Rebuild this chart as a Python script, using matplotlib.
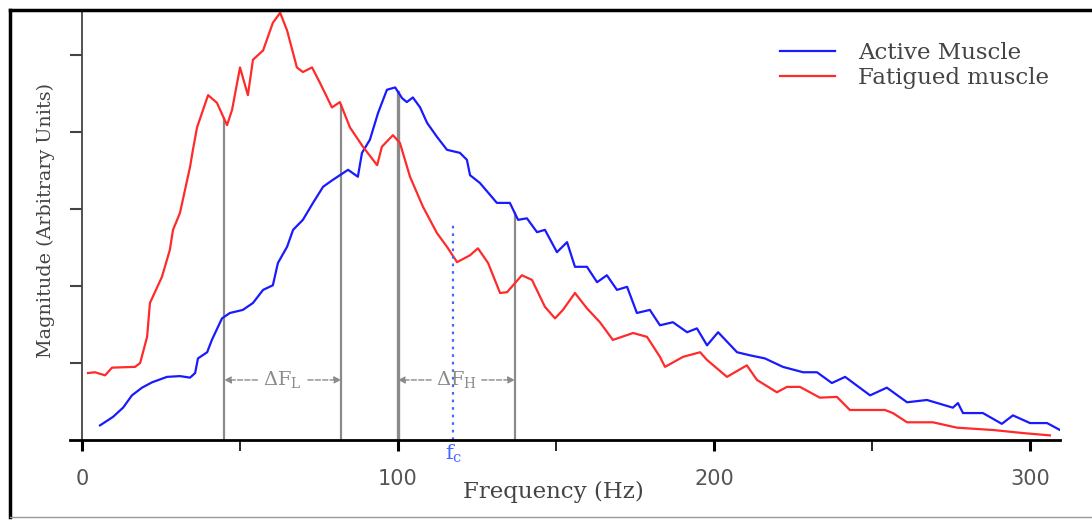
import numpy as np
import matplotlib
matplotlib.use("Agg")
import matplotlib.pyplot as plt
from matplotlib.lines import Line2D

# Spectra (Hz, arbitrary units)
active_freq = [5.7, 9.8, 13.0, 15.8, 19.0, 22.2, 26.9, 31.0, 34.2, 35.8, 36.7, 39.6, 41.1, 44.3,
               46.8, 50.9, 54.1, 57.3, 60.4, 62.0, 64.9, 66.8, 69.9, 73.1, 76.3, 79.4, 84.2, 87.3,
               88.6, 91.1, 93.7, 96.5, 99.1, 101.3, 102.8, 104.7, 107.0, 109.2, 112.3, 115.5, 119.6,
               121.8, 122.8, 125.9, 131.3, 135.4, 138.0, 140.8, 144.0, 146.5, 150.3, 153.5, 156.0,
               159.8, 163.0, 166.1, 169.3, 172.5, 175.6, 179.7, 182.9, 187.0, 191.5, 194.6, 197.8,
               201.3, 207.3, 211.4, 216.1, 221.8, 228.2, 232.6, 237.3, 241.5, 249.4, 254.7, 261.1,
               267.4, 275.6, 277.2, 278.8, 285.1, 291.1, 294.6, 300.0, 305.4, 309.5]
active_mag = [0.19, 0.30, 0.42, 0.58, 0.68, 0.75, 0.82, 0.83, 0.81, 0.87, 1.06, 1.14, 1.30, 1.58,
              1.65, 1.69, 1.78, 1.95, 2.01, 2.30, 2.51, 2.73, 2.86, 3.08, 3.29, 3.38, 3.51, 3.42,
              3.73, 3.90, 4.25, 4.55, 4.58, 4.44, 4.39, 4.45, 4.32, 4.12, 3.94, 3.77, 3.73,
              3.64, 3.44, 3.34, 3.08, 3.08, 2.86, 2.88, 2.70, 2.73, 2.44, 2.57, 2.25,
              2.25, 2.05, 2.14, 1.95, 1.99, 1.65, 1.69, 1.49, 1.53, 1.40, 1.45, 1.23,
              1.40, 1.14, 1.10, 1.06, 0.95, 0.88, 0.88, 0.74, 0.82, 0.58, 0.68, 0.49,
              0.52, 0.42, 0.48, 0.35, 0.35, 0.21, 0.32, 0.22, 0.22, 0.13]

fatigued_freq = [1.9, 4.1, 7.3, 9.5, 16.8, 18.4, 20.6, 21.5, 25.3, 27.8, 28.8, 31.0, 34.2, 35.1,
                 36.4, 39.9, 42.7, 45.9, 47.5, 50.0, 52.5, 54.1, 57.3, 60.4, 62.7, 64.9, 68.0,
                 69.9, 72.8, 75.3, 79.1, 81.6, 84.8, 88.9, 93.4, 94.9, 98.4, 100.6, 103.8, 107.9,
                 112.3, 115.5, 118.7, 122.8, 125.3, 128.5, 132.3, 134.5, 139.2, 142.4, 146.5,
                 149.7, 152.2, 156.0, 159.8, 163.9, 168.0, 174.4, 178.8, 182.9, 184.5, 190.2,
                 195.6, 197.8, 204.1, 210.4, 213.6, 219.9, 223.1, 227.2, 233.5, 238.9, 243.0,
                 254.1, 256.6, 261.1, 269.3, 276.9, 288.3, 297.8, 306.3]
fatigued_mag = [0.87, 0.88, 0.84, 0.94, 0.95, 1.00, 1.34, 1.78, 2.12, 2.47, 2.73, 2.95, 3.55, 3.77,
                4.06, 4.48, 4.38, 4.09, 4.29, 4.84, 4.48, 4.94, 5.06, 5.42, 5.55, 5.32, 4.84,
                4.78, 4.84, 4.64, 4.32, 4.39, 4.06, 3.81, 3.57, 3.81, 3.96, 3.86, 3.42, 3.03,
                2.69, 2.51, 2.31, 2.40, 2.49, 2.30, 1.91, 1.92, 2.14, 2.08, 1.73,
                1.58, 1.69, 1.91, 1.71, 1.53, 1.30, 1.39, 1.34, 1.08, 0.95, 1.08,
                1.14, 1.04, 0.82, 0.97, 0.78, 0.62, 0.69, 0.69, 0.55, 0.56, 0.39,
                0.39, 0.35, 0.23, 0.23, 0.16, 0.13, 0.09, 0.06]

# band edges (Hz): low band and high band, plus the centre frequency
low_band = [45, 82]
high_band = [100, 137]
f_c = 117.5
f_c_top = 2.8

serif = ['DejaVu Serif']
grey_txt = '#555555'

fig = plt.figure(figsize=(10.92, 5.2), dpi=100)
ax = fig.add_axes([70 / 1092, 80 / 520, 990 / 1092, 428 / 520])

ax.plot(active_freq, active_mag, color='#1a1aff', lw=1.6, label='Active Muscle')
ax.plot(fatigued_freq, fatigued_mag, color='#ff2a2a', lw=1.6, label='Fatigued muscle')

# vertical band lines up to the higher of the two curves
for f in low_band + high_band:
    top = max(np.interp(f, active_freq, active_mag), np.interp(f, fatigued_freq, fatigued_mag))
    ax.plot([f, f], [0, top], color='#8a8a8a', lw=1.6 if f != 100 else 2.4, zorder=1)

ax.plot([f_c, f_c], [0, f_c_top], color='#4466ff', lw=1.6, ls=(0, (1.2, 2.2)))

# delta F labels with arrows
arrow_y = 0.78
for band, lab in [(low_band, r'$\mathregular{\Delta F_L}$'), (high_band, r'$\mathregular{\Delta F_H}$')]:
    mid = (band[0] + band[1]) / 2
    ax.text(mid, arrow_y, lab, ha='center', va='center', fontsize=14, color='#8a8a8a',
            family=serif)
    ax.annotate('', xy=(band[0], arrow_y), xytext=(mid - 8, arrow_y),
                arrowprops=dict(arrowstyle='-|>', color='#8a8a8a', lw=1.0, ls='--',
                                mutation_scale=10, shrinkA=0, shrinkB=0))
    ax.annotate('', xy=(band[1], arrow_y), xytext=(mid + 8, arrow_y),
                arrowprops=dict(arrowstyle='-|>', color='#8a8a8a', lw=1.0, ls='--',
                                mutation_scale=10, shrinkA=0, shrinkB=0))

ax.text(f_c, -0.04, r'$\mathregular{f_c}$', ha='center', va='top', fontsize=15,
        color='#4466ff', family=serif)

# axes styling
ax.set_xlim(-3.8, 309.5)
ax.set_ylim(0, 5.56)
ax.spines['top'].set_visible(False)
ax.spines['right'].set_visible(False)
ax.spines['left'].set_position(('data', 0))
ax.spines['left'].set_color('#444444')
ax.spines['left'].set_linewidth(1.3)
ax.spines['bottom'].set_linewidth(2.0)

ax.set_xticks([0, 100, 200, 300])
ax.set_xticks([50, 150, 250], minor=True)
ax.set_xticklabels(['0', '100', '200', '300'])
ax.tick_params(axis='x', which='major', direction='out', length=8, width=2.2, pad=13,
               labelsize=15, labelcolor=grey_txt)
ax.tick_params(axis='x', which='minor', direction='out', length=8, width=1.2)
ax.set_yticks([1, 2, 3, 4, 5])
ax.set_yticklabels([])
ax.tick_params(axis='y', direction='out', length=9, width=1.5, color='#444444')

ax.set_xlabel('Frequency (Hz)', fontsize=16.5, color='#444444', family=serif)
ax.xaxis.set_label_coords(0.488, -0.095)
ax.set_ylabel('Magnitude (Arbitrary Units)', fontsize=13.8, color='#444444', family=serif)
ax.yaxis.set_label_coords(-0.015, 0.514)

leg = ax.legend(loc='upper left', bbox_to_anchor=(0.717, 0.93), frameon=False,
                prop={'family': serif, 'size': 16.5}, handlelength=2.4, handletextpad=1.0,
                labelspacing=0.15, borderpad=0, borderaxespad=0)
for t in leg.get_texts():
    t.set_color('#444444')

# outer frame: heavy left/top edges, light bottom
fig.add_artist(Line2D([10 / 1092, 10 / 1092], [3 / 520, 510 / 520], color='black', lw=2.5))
fig.add_artist(Line2D([10 / 1092, 1], [510 / 520, 510 / 520], color='black', lw=2.5))
fig.add_artist(Line2D([10 / 1092, 1], [3 / 520, 3 / 520], color='#999999', lw=1.0))

fig.savefig('out.png', dpi=100)
